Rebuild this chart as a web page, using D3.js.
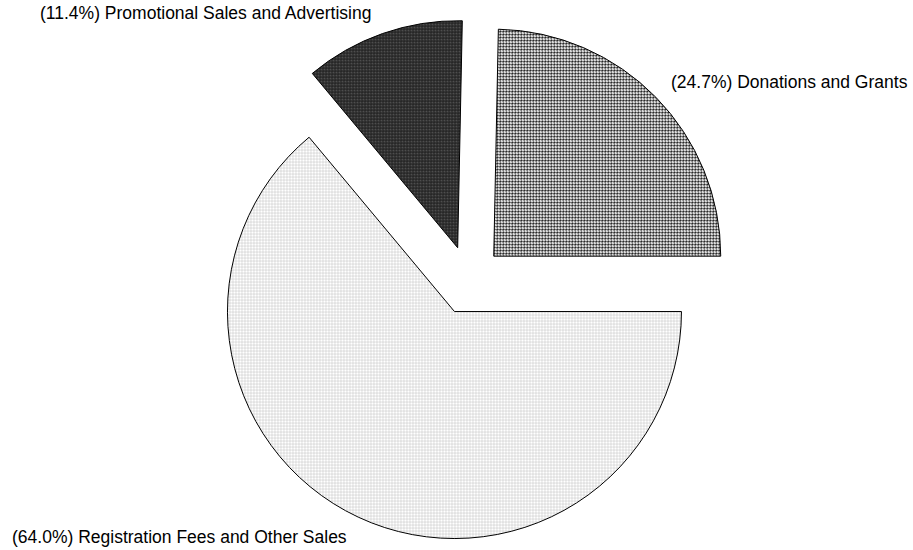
<!DOCTYPE html>
<html>
<head>
<meta charset="utf-8">
<script src="https://cdn.jsdelivr.net/npm/d3@7"></script>
<style>
  html, body { margin: 0; padding: 0; background: #fff; }
  svg { display: block; }
  text { font-family: "Liberation Sans", Arial, sans-serif; font-size: 17.5px; fill: #000; }
</style>
</head>
<body>
<svg id="chart" width="913" height="550"></svg>
<script>
// Revenue sources (percent of total)
const categories = ["Donations and Grants", "Registration Fees and Other Sales", "Promotional Sales and Advertising"];
const values = [24.7, 64.0, 11.4];
const fills = ["url(#patDonations)", "url(#patRegistration)", "url(#patPromotional)"];

const width = 913, height = 550;
const cx = 469.1, cy = 280.3;
const radius = 227;
const explode = 34.5;

const svg = d3.select("#chart");
const defs = svg.append("defs");

// 3x3 pixel fill patterns: each cell is [col, row, grey]
function makePattern(id, cells) {
  const p = defs.append("pattern")
    .attr("id", id)
    .attr("patternUnits", "userSpaceOnUse")
    .attr("width", 3).attr("height", 3);
  cells.forEach(([x, y, g]) => {
    p.append("rect")
      .attr("x", x).attr("y", y).attr("width", 1).attr("height", 1)
      .attr("shape-rendering", "crispEdges")
      .attr("fill", d3.rgb(g, g, g));
  });
}
makePattern("patDonations", [
  [0,0,0],[1,0,100],[2,0,100],
  [0,1,100],[1,1,255],[2,1,200],
  [0,2,100],[1,2,200],[2,2,255]
]);
makePattern("patRegistration", [
  [0,0,205],[1,0,225],[2,0,225],
  [0,1,225],[1,1,255],[2,1,255],
  [0,2,225],[1,2,255],[2,2,255]
]);
makePattern("patPromotional", [
  [0,0,30],[1,0,40],[2,0,40],
  [0,1,40],[1,1,95],[2,1,60],
  [0,2,40],[1,2,60],[2,2,60]
]);

const startDeg = 90 - 360 * values[0] / d3.sum(values);
const start = startDeg * Math.PI / 180;

const pie = d3.pie()
  .sort(null)
  .value(d => d)
  .startAngle(start)
  .endAngle(start + 2 * Math.PI);

const arc = d3.arc().innerRadius(0).outerRadius(radius);
const arcs = pie(values);

const g = svg.append("g").attr("transform", `translate(${cx},${cy})`);

g.selectAll("path.slice")
  .data(arcs)
  .join("path")
  .attr("class", "slice")
  .attr("transform", d => {
    const mid = (d.startAngle + d.endAngle) / 2;
    return `translate(${explode * Math.sin(mid)},${-explode * Math.cos(mid)})`;
  })
  .attr("d", arc)
  .attr("fill", (d, i) => fills[i])
  .attr("stroke", "#000")
  .attr("stroke-width", 1)
  .attr("stroke-linejoin", "miter");

// Label anchors (left edge, baseline) for each slice
const labelPos = [
  [671, 88],
  [12, 543],
  [40, 19]
];

svg.selectAll("text.label")
  .data(arcs)
  .join("text")
  .attr("class", "label")
  .attr("x", (d, i) => labelPos[i][0])
  .attr("y", (d, i) => labelPos[i][1])
  .text((d, i) => `(${values[i].toFixed(1)}%) ${categories[i]}`);
</script>
</body>
</html>
